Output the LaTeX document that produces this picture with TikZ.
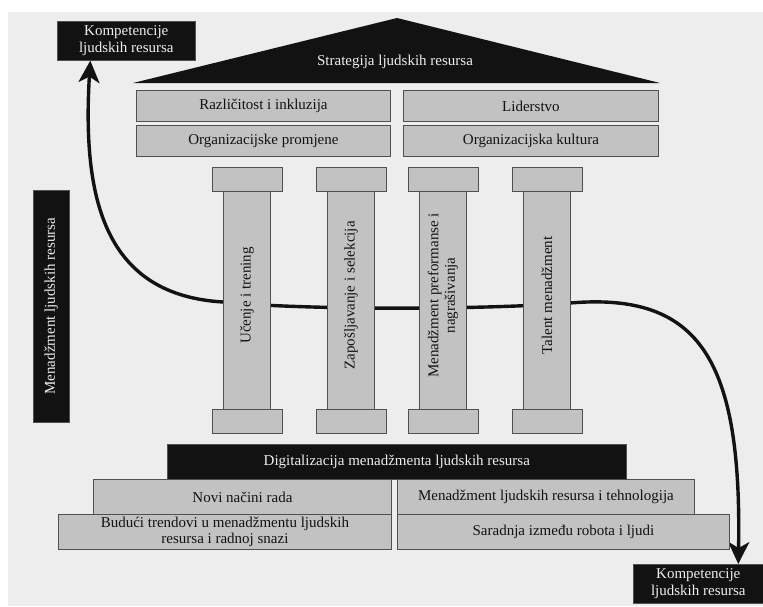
\documentclass[tikz,border=0pt]{standalone}
\usepackage{fontspec}
\setmainfont{Liberation Serif}
\usetikzlibrary{arrows.meta}
\definecolor{bg}{HTML}{EDEDED}
\definecolor{boxgray}{HTML}{C2C2C2}
\definecolor{edge}{HTML}{505050}
\definecolor{ink}{HTML}{121212}
\definecolor{paper}{HTML}{EEEEEE}
\newcommand{\fs}{\fontsize{15}{16.5}\selectfont}
\begin{document}
\begin{tikzpicture}[x=1pt,y=-1pt,
  gbox/.style={draw=edge, fill=boxgray, line width=0.9pt, inner sep=0pt, anchor=north west, align=center, font=\fs, text=ink},
  kbox/.style={draw=edge, fill=ink, line width=0.6pt, inner sep=0pt, anchor=north west, align=center, font=\fs, text=paper},
  ptext/.style={rotate=90, align=center, font=\fs, text=ink, inner sep=0pt},
  flow/.style={line width=3.4pt, draw=ink, {Stealth[length=22pt,width=21pt,inset=6pt]}-{Stealth[length=22pt,width=21pt,inset=6pt]}}]
\useasboundingbox (0,0) rectangle (763,606);
\fill[white] (0,0) rectangle (763,606);
\fill[bg] (8,12) rectangle (763,606);

% competence boxes
\node[kbox, minimum width=138pt, minimum height=39pt] (kTop) at (57,21) {Kompetencije\\ljudskih resursa};
\node[kbox, minimum width=130pt, minimum height=39pt] (kBot) at (633,564) {Kompetencije\\ljudskih resursa};

% left vertical box
\node[kbox, minimum width=36pt, minimum height=232pt] (hrm) at (33,190) {};
\node[rotate=90, font=\fs, text=paper, inner sep=0pt] (hrmtext) at (hrm.center) {Menadžment ljudskih resursa};

% flow curve (behind pillars)
\coordinate (c1) at (223,302);
\coordinate (c2) at (570,303);
\draw[flow] ([xshift=-36pt]kTop.south) .. controls (82,200) and (105,295) .. (c1)
  .. controls (300,310) and (480,310) .. (c2)
  .. controls (700,292) and (742,360) .. ([xshift=40pt]kBot.north);

% roof
\fill[ink] (133,83) -- (397,18) -- (660,83) -- cycle;
\node[font=\fs, text=paper, inner sep=0pt] (roof) at (395,62) {Strategija ljudskih resursa};

% top bars
\node[gbox, minimum width=254pt, minimum height=31pt] (r1) at (136,90) {Različitost i inkluzija};
\node[gbox, minimum width=254pt, minimum height=31pt] (r2) at (136,125) {Organizacijske promjene};
\node[gbox, minimum width=255pt, minimum height=31pt] (l1) at (403,90) {Liderstvo};
\node[gbox, minimum width=255pt, minimum height=31pt] (l2) at (403,125) {Organizacijska kultura};

% pillars
\foreach \i/\x in {1/212,2/316,3/408,4/512}{
  \node[gbox, minimum width=47pt, minimum height=218pt] (shaft\i) at (\x+11,191) {};
  \node[gbox, minimum width=70pt, minimum height=24pt] (cap\i) at (\x,167) {};
  \node[gbox, minimum width=70pt, minimum height=24pt] (base\i) at (\x,409) {};
}
\node[ptext] (t1) at ([yshift=5pt]shaft1.center) {Učenje i trening};
\node[ptext] (t2) at ([yshift=5pt]shaft2.center) {Zapošljavanje i selekcija};
\node[ptext] (t3) at ([yshift=5pt]shaft3.center) {Menadžment preformanse i\\nagrašivanja};
\node[ptext] (t4) at ([yshift=5pt]shaft4.center) {Talent menadžment};

% foundation
\node[kbox, minimum width=459pt, minimum height=35pt] (dig) at (167,444) {Digitalizacija menadžmenta ljudskih resursa};
\node[gbox, minimum width=298pt, minimum height=35pt] (b1) at (93,479) {Novi načini rada};
\node[gbox, minimum width=333pt, minimum height=35pt] (b2) at (58,514) {Budući trendovi u menadžmentu ljudskih\\resursa i radnoj snazi};
\node[gbox, minimum width=297pt, minimum height=35pt] (b3) at (397,479) {Menadžment ljudskih resursa i tehnologija};
\node[gbox, minimum width=332pt, minimum height=35pt] (b4) at (397,514) {Saradnja između robota i ljudi};
\end{tikzpicture}
\end{document}
